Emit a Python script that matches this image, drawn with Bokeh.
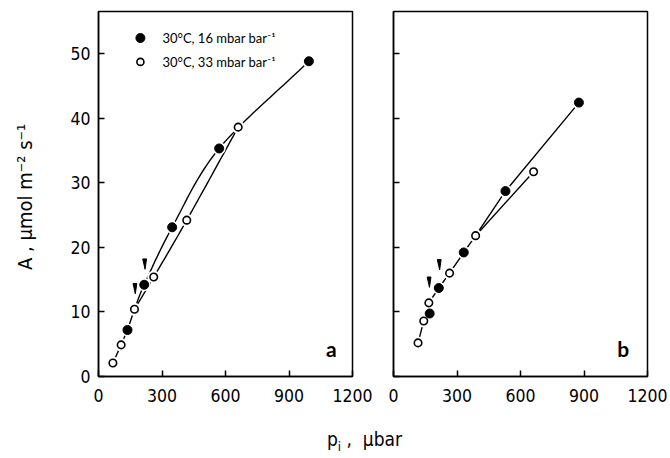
import numpy as np
from bokeh.plotting import figure
from bokeh.layouts import column, row
from bokeh.models import Div, FixedTicker, Range1d, CustomJSTickFormatter
from bokeh.embed import file_html
from bokeh.resources import INLINE
from bokeh.core.properties import value

FONT = "DejaVu Sans Condensed"

# ---------------- data ----------------
x_ticks = [0, 300, 600, 900, 1200]
y_ticks = [0, 10, 20, 30, 40, 50]
legend_labels = ["30°C,  16 mbar  bar⁻¹", "30°C,  33 mbar  bar⁻¹"]
y_label = "A ,  μmol m⁻² s⁻¹"
panel_names = ["a", "b"]

# panel a  (pi in µbar, A in µmol m-2 s-1)
a16_x = [137, 216, 348, 570, 994]
a16_y = [7.2, 14.2, 23.1, 35.3, 48.8]
a33_x = [68, 107, 170, 261, 417, 660]
a33_y = [2.1, 4.9, 10.4, 15.4, 24.2, 38.6]
a_arrow_x = [172, 218]
a_arrow_y = [13.6, 17.4]

# panel b
b16_x = [171, 214, 332, 529, 876]
b16_y = [9.75, 13.7, 19.2, 28.7, 42.4]
b33_x = [116, 143, 167, 265, 388, 662]
b33_y = [5.2, 8.6, 11.4, 16.0, 21.8, 31.7]
b_arrow_x = [168, 216]
b_arrow_y = [14.6, 17.3]


def catmull(xs, ys, n=20):
    xs = np.asarray(xs, float)
    ys = np.asarray(ys, float)
    px = np.concatenate([[2 * xs[0] - xs[1]], xs, [2 * xs[-1] - xs[-2]]])
    py = np.concatenate([[2 * ys[0] - ys[1]], ys, [2 * ys[-1] - ys[-2]]])
    ox, oy = [], []
    for i in range(1, len(px) - 2):
        t = np.linspace(0, 1, n, endpoint=(i == len(px) - 3))
        for P, out in ((px, ox), (py, oy)):
            p0, p1, p2, p3 = P[i - 1], P[i], P[i + 1], P[i + 2]
            out.extend(0.5 * ((2 * p1) + (-p0 + p2) * t
                              + (2 * p0 - 5 * p1 + 4 * p2 - p3) * t ** 2
                              + (-p0 + 3 * p1 - 3 * p2 + p3) * t ** 3))
    return ox, oy


def make_panel(f_x, f_y, o_x, o_y, arr_x, arr_y, name, first, smooth):
    p = figure(width=373 if first else 296, height=418,
               x_range=Range1d(0, 1200), y_range=Range1d(0, 56.5),
               output_backend="svg", toolbar_location=None,
               min_border_left=98 if first else 20,
               min_border_right=21 if first else 22,
               min_border_top=11, min_border_bottom=42)
    p.grid.visible = False
    p.outline_line_color = "black"
    p.outline_line_width = 1.5
    p.background_fill_color = "white"
    p.border_fill_color = "white"
    for ax in (p.xaxis[0], p.yaxis[0]):
        ax.axis_line_width = 1.5
        ax.major_tick_in = 6
        ax.major_tick_out = 0
        ax.major_tick_line_width = 1.5
        ax.minor_tick_line_color = None
        ax.major_label_text_font = FONT
        ax.major_label_text_font_size = "17.5px"
        ax.major_label_text_color = "black"
    p.xaxis.ticker = FixedTicker(ticks=x_ticks)
    p.yaxis.ticker = FixedTicker(ticks=y_ticks)
    p.xaxis.major_label_standoff = 12
    if first:
        p.yaxis.major_label_standoff = 8
        p.yaxis.axis_label = y_label
        p.yaxis.axis_label_text_font = FONT
        p.yaxis.axis_label_text_font_size = "20px"
        p.yaxis.axis_label_text_font_style = "normal"
        p.yaxis.axis_label_text_color = "black"
        p.yaxis.axis_label_standoff = 30
    else:
        p.yaxis.formatter = CustomJSTickFormatter(code="return ''")
        p.yaxis.major_label_standoff = 0

    # merge all points, order by A for the common lower part
    allx = list(f_x) + list(o_x)
    ally = list(f_y) + list(o_y)
    order = np.argsort(ally)
    # branching point: open point where the two curves separate
    split_o = 2 if first else 4
    sx, sy = o_x[split_o], o_y[split_o]
    low = [i for i in order if ally[i] <= sy]
    lx = [allx[i] for i in low]
    ly = [ally[i] for i in low]
    p.line(lx, ly, line_color="black", line_width=1.4)

    fbx = [sx] + [x for x, y in zip(f_x, f_y) if y > sy]
    fby = [sy] + [y for x, y in zip(f_x, f_y) if y > sy]
    obx = [sx] + [x for x, y in zip(o_x, o_y) if y > sy]
    oby = [sy] + [y for x, y in zip(o_x, o_y) if y > sy]
    if smooth:
        fbx, fby = catmull(fbx, fby)
        obx, oby = catmull(obx, oby)
    p.line(fbx, fby, line_color="black", line_width=1.4)
    p.line(obx, oby, line_color="black", line_width=1.4)

    # white halos that break the lines next to the symbols
    p.scatter(allx, ally, size=13, fill_color="white", line_color=None)
    p.scatter(f_x, f_y, size=9, fill_color="black", line_color="black")
    p.scatter(o_x, o_y, size=7.5, fill_color="white", line_color="black",
              line_width=1.6)

    # arrow heads (narrow wedges pointing down)
    xs = [[x - 9, x + 9, x + 2] for x in arr_x]
    ys = [[y + 0.8, y + 0.8, y - 0.8] for y in arr_y]
    p.patches(xs, ys, fill_color="black", line_color="black", line_width=1)

    p.text([1100 if first else 1085], [4.3], text=[name],
           text_font=value("Lato"), text_font_size="21px",
           text_font_style="bold", text_align="center",
           text_baseline="middle", text_color="black")
    return p


pa = make_panel(a16_x, a16_y, a33_x, a33_y, a_arrow_x, a_arrow_y,
                panel_names[0], True, True)
pb = make_panel(b16_x, b16_y, b33_x, b33_y, b_arrow_x, b_arrow_y,
                panel_names[1], False, False)

# legend inside panel a
leg_x = [198, 198]
leg_y = [52.4, 48.7]
pa.scatter([leg_x[0]], [leg_y[0]], size=9, fill_color="black", line_color="black")
pa.scatter([leg_x[1]], [leg_y[1]], size=7, fill_color="white",
           line_color="black", line_width=1.6)
pa.text([x + 104 for x in leg_x], leg_y, text=legend_labels,
        text_font=value("Lato"), text_font_size="13px",
        text_baseline="middle", text_align="left", text_color="black")

xlab = Div(text='<div style="margin-left:322px;margin-top:4px;'
                'font-family:\'DejaVu Sans Condensed\';font-size:19px;'
                'line-height:24px;color:black;white-space:nowrap">'
                'p<sub style="font-size:13px;line-height:0">i</sub>'
                ' ,&nbsp; μbar</div>',
           width=660, height=38)

layout = column(row(pa, pb), xlab)
open("out.html", "w").write(file_html(layout, INLINE))
